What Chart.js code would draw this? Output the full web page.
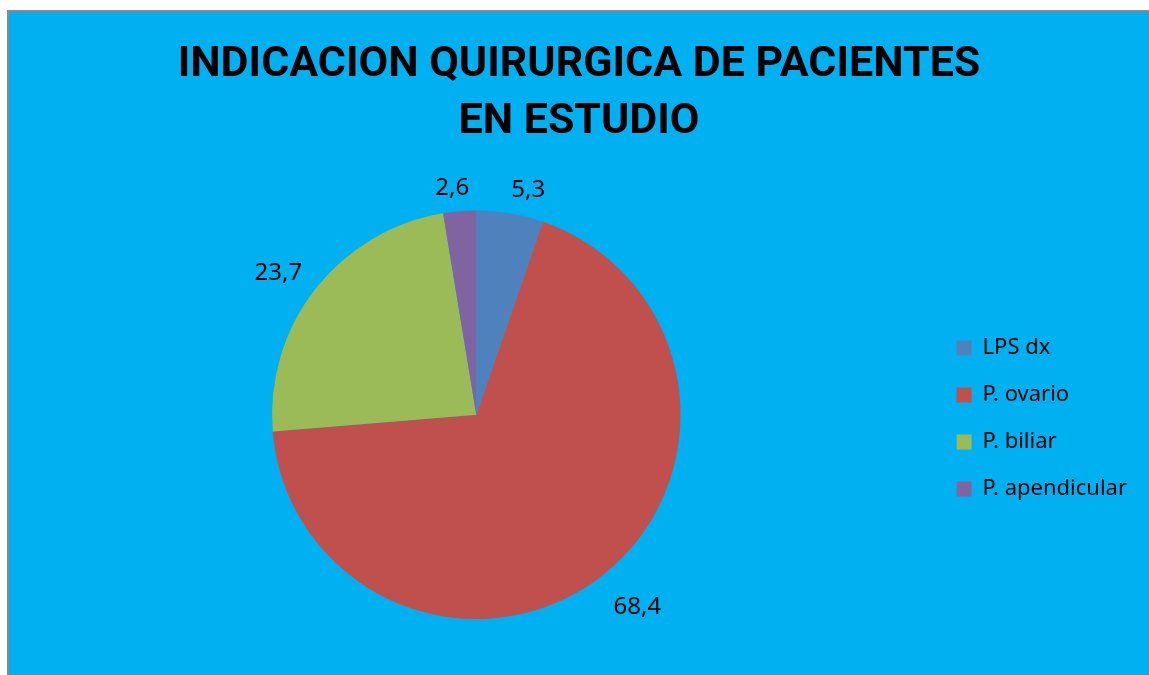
<!DOCTYPE html>
<html>
<head>
<meta charset="utf-8">
<script src="https://cdn.jsdelivr.net/npm/chart.js@4"></script>
<style>
  html, body { margin: 0; padding: 0; background: #fff; }
  #fondo { position: absolute; left: 7px; top: 10px; right: 0; bottom: 0; background: #00B0F0; border-left: 2px solid #8a8a8a; border-top: 2px solid #8a8a8a; }
  #c { position: absolute; left: 0; top: 0; }
</style>
</head>
<body>
<div id="fondo"></div>
<canvas id="c" width="1149" height="675"></canvas>
<script>
const categorias = ["LPS dx", "P. ovario", "P. biliar", "P. apendicular"];
const valores = [5.3, 68.4, 23.7, 2.6];
const colores = ["#4F81BD", "#C0504D", "#9BBB59", "#8064A2"];
const titulo = ["INDICACION QUIRURGICA DE PACIENTES", "EN ESTUDIO"];

Chart.defaults.color = "#000";

// etiquetas de valor fuera de cada sector
const etiquetas = {
  id: "etiquetas",
  afterDatasetsDraw(chart) {
    const ctx = chart.ctx;
    const meta = chart.getDatasetMeta(0);
    ctx.save();
    ctx.font = "24px 'Noto Sans'";
    ctx.fillStyle = "#000";
    ctx.textAlign = "center";
    ctx.textBaseline = "middle";
    meta.data.forEach((arc, i) => {
      const p = arc.getProps(["startAngle", "endAngle", "x", "y", "outerRadius"], true);
      const mid = (p.startAngle + p.endAngle) / 2;
      const ux = Math.cos(mid), uy = Math.sin(mid);
      const txt = String(valores[i]).replace(".", ",");
      const w = ctx.measureText(txt).width;
      const h = 22;
      const r = p.outerRadius + 18;
      const cl = v => Math.max(-1, Math.min(1, v * 5));
      const x = p.x + ux * r + cl(ux) * w / 2 + 1;
      const y = p.y + uy * r + cl(uy) * h / 2 + 6;
      ctx.fillText(txt, x, y);
    });
    ctx.restore();
  }
};

new Chart("c", {
  type: "pie",
  data: {
    labels: categorias,
    datasets: [{
      data: valores,
      backgroundColor: colores,
      borderWidth: 0
    }]
  },
  options: {
    responsive: false,
    animation: false,
    events: [],
    layout: { padding: { top: 20, left: 21, right: 12, bottom: 56 } },
    plugins: {
      title: {
        display: true,
        text: titulo,
        color: "#000",
        font: { family: "Roboto", size: 43, weight: "bold", lineHeight: 1.32 },
        padding: { top: 17, bottom: 60 }
      },
      legend: {
        position: "right",
        title: { display: true, text: " ", font: { size: 1 }, padding: { top: 197, bottom: 0 } },
        labels: {
          boxWidth: 15,
          boxHeight: 15,
          padding: 25,
          font: { family: "'Noto Sans'", size: 22 }
        }
      },
      tooltip: { enabled: false }
    }
  },
  plugins: [etiquetas]
});
</script>
</body>
</html>
